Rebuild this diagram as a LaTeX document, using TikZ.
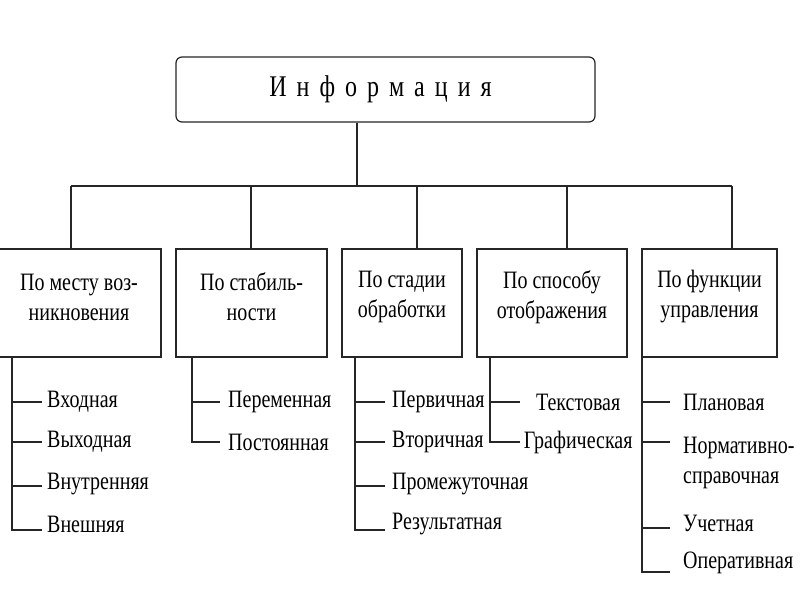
\documentclass[tikz,border=0pt]{standalone}
\usepackage{fontspec}
\setmainfont{Liberation Serif}[FakeStretch=0.8]
\begin{document}
\begin{tikzpicture}[x=1pt,y=-1pt,
  every node/.style={font=\fontsize{25}{30}\selectfont, text=black},
  line/.style={line width=1.2pt, draw=black!85},
  catbox/.style={line, draw, rectangle, inner sep=0pt},
  cattext/.style={align=center, inner sep=0pt},
  item/.style={anchor=west, inner ysep=0pt}
]
\useasboundingbox (0,0) rectangle (800,600);
\fill[white] (0,0) rectangle (800,600);

% top box
\node[line, draw, rounded corners=6pt, minimum width=419pt, minimum height=65pt, inner sep=0pt,
  font=\fontsize{30}{36}\selectfont] (top) at (385.5,89.5)
  {\hspace{-10pt}И\hspace{10pt}н\hspace{10pt}ф\hspace{10pt}о\hspace{10pt}р\hspace{10pt}м\hspace{10pt}а\hspace{10pt}ц\hspace{10pt}и\hspace{10pt}я};

% category boxes
\node[catbox, minimum width=162pt, minimum height=108pt] (b1) at (80,303) {};
\node[catbox, minimum width=151pt, minimum height=108pt] (b2) at (251.5,303) {};
\node[catbox, minimum width=120pt, minimum height=108pt] (b3) at (402,303) {};
\node[catbox, minimum width=150pt, minimum height=108pt] (b4) at (552,303) {};
\node[catbox, minimum width=135pt, minimum height=108pt] (b5) at (709.5,303) {};

\node[cattext] (t1) at (79,297) {По месту воз-\\никновения};
\node[cattext] (t2) at (251.5,297) {По стабиль-\\ности};
\node[cattext] (t3) at (402,297) {По стадии\\обработки};
\node[cattext] (t4) at (552,297) {По способу\\отображения};
\node[cattext] (t5) at (709.5,297) {По функции\\управления};

% bus
\coordinate (bus) at (357,186);
\coordinate (v1) at (71,186);
\coordinate (v2) at (251,186);
\coordinate (v3) at (417,186);
\coordinate (v4) at (567,186);
\coordinate (v5) at (732,186);
\draw[line] (top.south -| bus) -- (bus);
\draw[line] (v1) -- (v5);
\foreach \i in {1,...,5}{\draw[line] (v\i) -- (v\i |- b\i.north);}

% list spines
\coordinate (l1) at (12,357);
\coordinate (l2) at (192,357);
\coordinate (l3) at (355,357);
\coordinate (l4) at (490,357);
\coordinate (l5) at (642,357);

% column 1
\node[item, inner xsep=5pt] (i11) at (42,402) {Входная};
\node[item, inner xsep=5pt] (i12) at (42,442) {Выходная};
\node[item, inner xsep=5pt] (i13) at (42,484) {Внутренняя};
\node[item, inner xsep=5pt] (i14) at (42,524) {Внешняя};
% column 2
\node[item, inner xsep=8pt] (i21) at (220,402) {Переменная};
\node[item, inner xsep=8pt] (i22) at (220,442) {Постоянная};
% column 3
\node[item, inner xsep=7pt] (i31) at (385,402) {Первичная};
\node[item, inner xsep=7pt] (i32) at (385,442) {Вторичная};
\node[item, inner xsep=7pt] (i33) at (385,484) {Промежуточная};
\node[item, inner xsep=7pt] (i34) at (385,524) {Результатная};
% column 4
\node[item, inner xsep=0pt, text width=116pt, align=center] (i41) at (520,402) {Текстовая};
\node[item, inner xsep=0pt, text width=116pt, align=center] (i42) at (520,442) {Графическая};
% column 5
\node[item, inner xsep=13pt] (i51) at (670,402) {Плановая};
\node[item, inner xsep=13pt, align=left] (i52) at (670,462.5) {Нормативно-\\справочная};
\node[item, inner xsep=13pt] (i53) at (670,523) {Учетная};
\node[item, inner xsep=13pt] (i54) at (670,563) {Оперативная};

\draw[line] (l1) |- ([yshift=-6pt]i14.west);
\draw[line] (l1 |- i11.west) -- (i11.west);
\draw[line] (l1 |- i12.west) -- (i12.west);
\draw[line] ([yshift=-2pt]l1 |- i13.west) -- ([yshift=-2pt]i13.west);
\draw[line] (l2) |- (i22.west);
\draw[line] (l2 |- i21.west) -- (i21.west);
\draw[line] (l3) |- ([yshift=-6pt]i34.west);
\draw[line] (l3 |- i31.west) -- (i31.west);
\draw[line] (l3 |- i32.west) -- (i32.west);
\draw[line] ([yshift=-2pt]l3 |- i33.west) -- ([yshift=-2pt]i33.west);
\draw[line] (l4) |- (i42.west);
\draw[line] (l4 |- i41.west) -- (i41.west);
\draw[line] (l5) |- ([yshift=-9pt]i54.west);
\draw[line] (l5 |- i51.west) -- (i51.west);
\draw[line] ([yshift=20.5pt]l5 |- i52.west) -- ([yshift=20.5pt]i52.west);
\draw[line] ([yshift=-5pt]l5 |- i53.west) -- ([yshift=-5pt]i53.west);
\end{tikzpicture}
\end{document}
